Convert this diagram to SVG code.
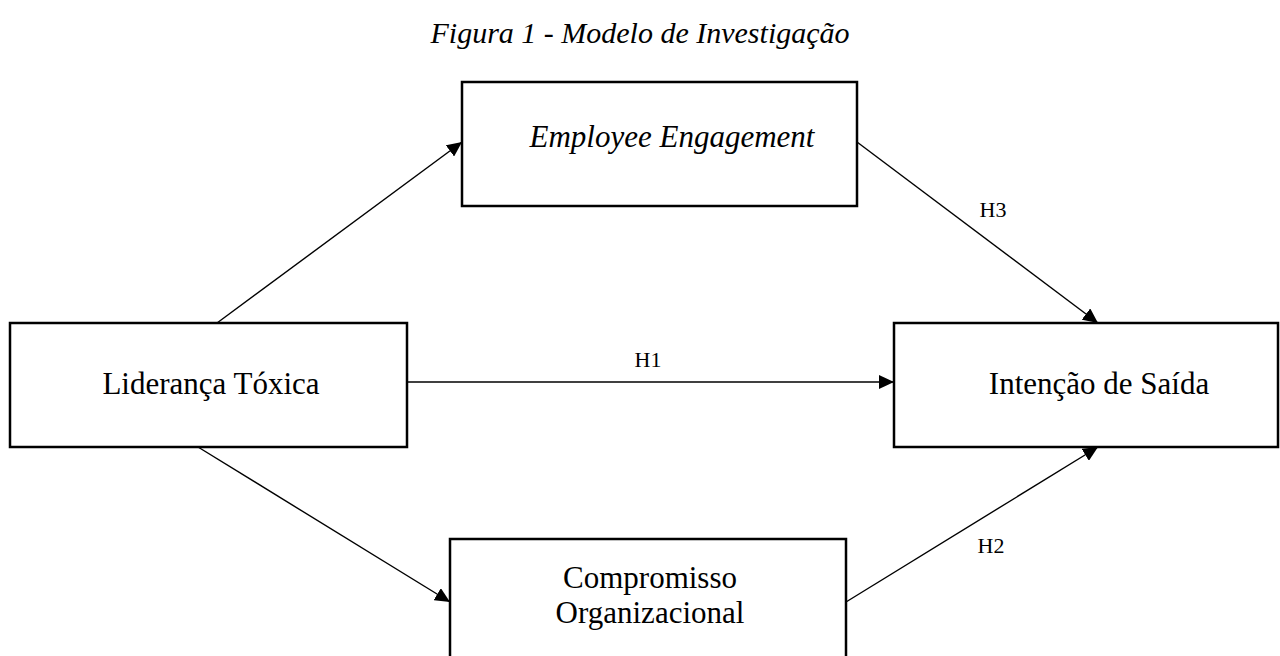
<svg xmlns="http://www.w3.org/2000/svg" width="1280" height="656" viewBox="0 0 1280 656">
<style>
.box{fill:#fff;stroke:#000;stroke-width:2.5}
.t{font-family:"Liberation Serif","Times New Roman",serif;font-size:31px;fill:#000;text-anchor:middle}
.it{font-style:italic}
.lbl{font-family:"Liberation Serif","Times New Roman",serif;font-size:22px;fill:#000;text-anchor:middle}
.c{stroke:#000;stroke-width:1.4;fill:none;marker-end:url(#ah)}
</style>
<defs>
<marker id="ah" markerUnits="userSpaceOnUse" markerWidth="16" markerHeight="14" refX="15" refY="7" orient="auto">
<path d="M0,0 L15,7 L0,14 z" fill="#000"/>
</marker>
</defs>
<rect width="1280" height="656" fill="#fff"/>
<text class="t it" x="640" y="43" style="font-size:30px">Figura 1 - Modelo de Investigação</text>
<g id="connectors">
<line class="c" x1="217" y1="323" x2="462" y2="142"/>
<line class="c" x1="857" y1="142" x2="1098" y2="323"/>
<line class="c" x1="198" y1="447" x2="450" y2="602"/>
<line class="c" x1="846" y1="602" x2="1098" y2="447"/>
<line class="c" x1="407" y1="382" x2="894" y2="382"/>
<text class="lbl" x="648" y="367">H1</text>
<text class="lbl" x="991" y="553">H2</text>
<text class="lbl" x="993" y="217">H3</text>
</g>
<g id="employee-engagement">
<rect class="box" x="462" y="82" width="395" height="124"/>
<text class="t it" x="672" y="147">Employee Engagement</text>
</g>
<g id="lideranca-toxica">
<rect class="box" x="10" y="323" width="397" height="124"/>
<text class="t" x="211" y="394">Liderança Tóxica</text>
</g>
<g id="intencao-de-saida">
<rect class="box" x="894" y="323" width="384" height="124"/>
<text class="t" x="1099" y="394">Intenção de Saída</text>
</g>
<g id="compromisso-organizacional">
<rect class="box" x="450" y="539" width="396" height="140"/>
<text class="t" x="650" y="588">Compromisso</text>
<text class="t" x="650" y="623">Organizacional</text>
</g>
</svg>
